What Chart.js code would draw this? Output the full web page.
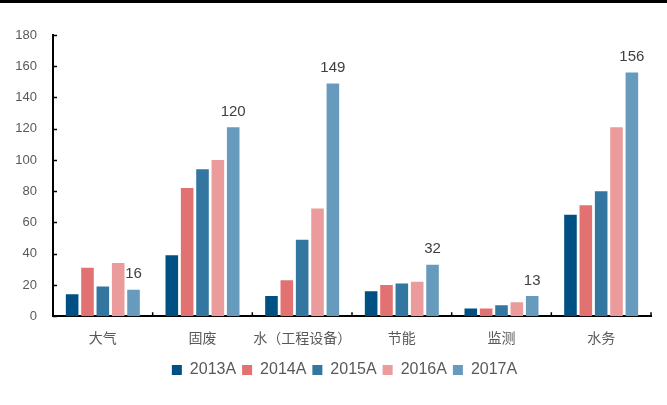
<!DOCTYPE html>
<html>
<head>
<meta charset="utf-8">
<script src="https://cdn.jsdelivr.net/npm/chart.js@4/dist/chart.umd.min.js"></script>
<style>
    body { margin: 0; background: #fff; }
    #wrap { position: relative; width: 667px; height: 405px; }
    #topLine { position: absolute; left: 0; top: 0; width: 667px; height: 3px; background: #000; }
</style>
</head>
<body>
<div id="wrap">
    <canvas id="sectorChart" width="667" height="405"></canvas>
    <div id="topLine"></div>
</div>
<script>
const categories = ["大气", "固废", "水（工程设备）", "节能", "监测", "水务"];
const years = ["2013A", "2014A", "2015A", "2016A", "2017A"];
const values2013 = [14, 39, 13, 16, 5, 65];
const values2014 = [31, 82, 23, 20, 5, 71];
const values2015 = [19, 94, 49, 21, 7, 80];
const values2016 = [34, 100, 69, 22, 9, 121];
const values2017 = [17, 121, 149, 33, 13, 156];
const labels2017 = ["16", "120", "149", "32", "13", "156"];
const yTicks = [0, 20, 40, 60, 80, 100, 120, 140, 160, 180];
const colors = ["#005083", "#e27171", "#3377a1", "#eb9b9b", "#669bbd"];

const seriesValues = [values2013, values2014, values2015, values2016, values2017];

// ticks inward + labels over the last series
const extras = {
    id: "extras",
    afterLayout(chart) {
        // legend sits a bit right of the canvas centre in the original
        chart.legend.left += 38;
    },
    afterDatasetsDraw(chart) {
        const ctx = chart.ctx;
        const x = chart.scales.x;
        const y = chart.scales.y;
        const area = chart.chartArea;
        ctx.save();
        ctx.strokeStyle = "#000";
        ctx.lineWidth = 1.5;
        ctx.beginPath();
        yTicks.forEach((t) => {
            const py = Math.round(y.getPixelForValue(t)) + 0.5;
            ctx.moveTo(area.left, py);
            ctx.lineTo(area.left + 4, py);
        });
        for (let i = 1; i <= categories.length; i++) {
            const px = (x.getPixelForValue(i - 1) + x.getPixelForValue(Math.min(i, categories.length - 1))) / 2;
            const bx = i === categories.length ? area.right : px;
            ctx.moveTo(bx, area.bottom);
            ctx.lineTo(bx, area.bottom - 4);
        }
        ctx.stroke();

        const meta = chart.getDatasetMeta(4);
        ctx.fillStyle = "#404040";
        ctx.font = "15px 'Liberation Sans', Arial, sans-serif";
        ctx.textAlign = "center";
        ctx.textBaseline = "bottom";
        meta.data.forEach((bar, i) => {
            ctx.fillText(labels2017[i], bar.x, bar.y - 8);
        });
        ctx.restore();
    },
};

new Chart(document.getElementById("sectorChart"), {
    type: "bar",
    data: {
        labels: categories,
        datasets: years.map((yr, i) => ({
            label: yr,
            data: seriesValues[i],
            backgroundColor: colors[i],
            borderWidth: 0,
            categoryPercentage: 0.77,
            barPercentage: 0.82,
        })),
    },
    options: {
        responsive: false,
        animation: false,
        layout: { padding: { top: 35, right: 16, left: 0, bottom: 17 } },
        plugins: {
            tooltip: { enabled: false },
            legend: {
                position: "bottom",
                labels: {
                    boxWidth: 10,
                    boxHeight: 10,
                    padding: 6,
                    color: "#595959",
                    font: { size: 16, family: "'Liberation Sans', Arial, sans-serif" },
                },
            },
        },
        scales: {
            x: {
                afterFit: (scale) => { scale.height = scale.height - 7; },
                grid: { display: false, drawTicks: false },
                border: { color: "#000", width: 2 },
                ticks: {
                    padding: 15,
                    maxRotation: 0,
                    minRotation: 0,
                    autoSkip: false,
                    color: "#595959",
                    font: { size: 14, family: "'Liberation Sans', 'Noto Sans CJK SC', sans-serif" },
                },
            },
            y: {
                min: 0,
                max: 180,
                afterFit: (scale) => { scale.width = 53; },
                afterBuildTicks: (scale) => { scale.ticks = yTicks.map((v) => ({ value: v })); },
                grid: { display: false, drawTicks: false },
                border: { color: "#000", width: 2 },
                ticks: {
                    padding: 16,
                    color: "#595959",
                    font: { size: 13, family: "'Liberation Sans', Arial, sans-serif" },
                },
            },
        },
    },
    plugins: [extras],
});
</script>
</body>
</html>
